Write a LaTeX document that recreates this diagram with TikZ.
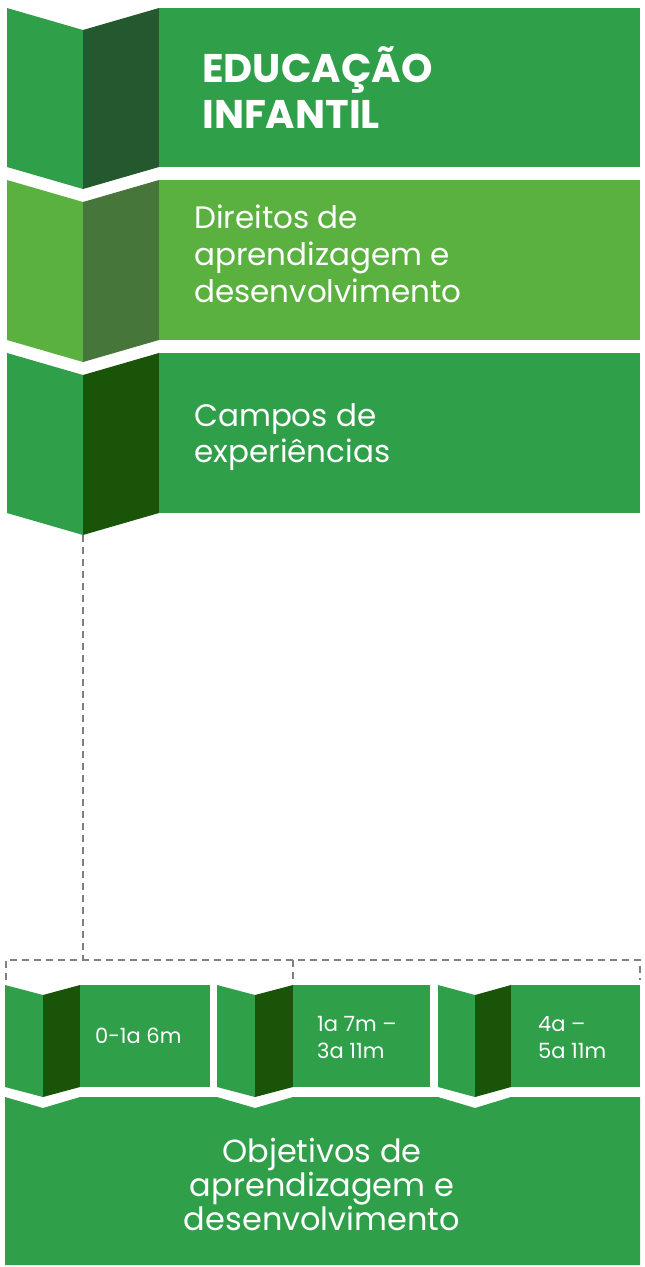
\documentclass[tikz,border=0pt]{standalone}
\usepackage{fontspec}
\setmainfont{Poppins}
\definecolor{gmain}{RGB}{47,159,73}
\definecolor{gdark}{RGB}{36,88,46}
\definecolor{glight}{RGB}{91,177,63}
\definecolor{glightdark}{RGB}{70,118,58}
\definecolor{gdeep}{RGB}{26,84,8}
\definecolor{dashgray}{RGB}{128,128,128}
\tikzset{
  rectbox/.style={anchor=north west, inner sep=0pt, outer sep=0pt},
  lbl/.style={text=white, inner sep=0pt, align=left, anchor=base west},
  dashline/.style={draw=dashgray, line width=2.4pt, dash pattern=on 7pt off 5pt},
}
\begin{document}
\begin{tikzpicture}[x=1pt,y=-1pt]
\useasboundingbox (0,0) rectangle (645,1267);
% banner 1
\fill[gmain] (7,8) -- (83,30) -- (83,189) -- (7,167) -- cycle;
\fill[gdark] (83,30) -- (159,8) -- (159,167) -- (83,189) -- cycle;
\node[rectbox, fill=gmain, minimum width=481pt, minimum height=159pt] (r1) at (159,8) {};
\node[lbl, font=\fontsize{40}{46}\selectfont\bfseries] (t1) at (202,128) {EDUCAÇÃO\\INFANTIL};
% banner 2
\fill[glight] (7,180) -- (83,202) -- (83,362) -- (7,340) -- cycle;
\fill[glightdark] (83,202) -- (159,180) -- (159,340) -- (83,362) -- cycle;
\node[rectbox, fill=glight, minimum width=481pt, minimum height=160pt] (r2) at (159,180) {};
\node[lbl, font=\fontsize{31}{37}\selectfont] (t2) at (194,302) {Direitos de\\aprendizagem e\\desenvolvimento};
% banner 3
\fill[gmain] (7,353) -- (83,375) -- (83,535) -- (7,513) -- cycle;
\fill[gdeep] (83,375) -- (159,353) -- (159,513) -- (83,535) -- cycle;
\coordinate (c3) at (83,535);
\node[rectbox, fill=gmain, minimum width=481pt, minimum height=160pt] (r3) at (159,353) {};
\node[lbl, font=\fontsize{31}{36}\selectfont] (t3) at (194,462) {Campos de\\experiências};
% dashed connector
\coordinate (hl) at (6,960);
\coordinate (hr) at (640,960);
\coordinate (hm) at (293,960);
\coordinate (la) at (6,980);
\coordinate (lb) at (293,980);
\coordinate (lc) at (640,980);
\draw[dashline] (c3) -- (c3 |- hl);
\draw[dashline] (la) -- (hl) -- (hr) -- (lc);
\draw[dashline] (hm) -- (lb);
% small banners
\fill[gmain] (5,985) -- (43,995) -- (43,1097) -- (5,1087) -- cycle;
\fill[gdeep] (43,995) -- (80,985) -- (80,1087) -- (43,1097) -- cycle;
\node[rectbox, fill=gmain, minimum width=130pt, minimum height=102pt] (sa) at (80,985) {};
\node[lbl, font=\fontsize{21}{27}\selectfont] (ta) at (95,1043) {0-1a 6m};
\fill[gmain] (217,985) -- (255,995) -- (255,1097) -- (217,1087) -- cycle;
\fill[gdeep] (255,995) -- (293,985) -- (293,1087) -- (255,1097) -- cycle;
\node[rectbox, fill=gmain, minimum width=137pt, minimum height=102pt] (sb) at (293,985) {};
\node[lbl, font=\fontsize{21}{27}\selectfont] (tb) at (317,1058) {1a 7m –\\3a 11m};
\fill[gmain] (438,985) -- (475,995) -- (475,1097) -- (438,1087) -- cycle;
\fill[gdeep] (475,995) -- (511,985) -- (511,1087) -- (475,1097) -- cycle;
\node[rectbox, fill=gmain, minimum width=129pt, minimum height=102pt] (sc) at (511,985) {};
\node[lbl, font=\fontsize{21}{27}\selectfont] (tc) at (538,1058) {4a –\\5a 11m};
% bottom box
\fill[gmain] (5,1097) -- (43,1108) -- (80,1097) -- (217,1097) -- (255,1108) -- (293,1097)
  -- (438,1097) -- (475,1108) -- (511,1097) -- (640,1097) -- (640,1265) -- (5,1265) -- cycle;
\coordinate (bc) at (322,1230);
\node[text=white, inner sep=0pt, align=center, anchor=base, font=\fontsize{32}{34}\selectfont] (tbot) at (bc) {Objetivos de\\aprendizagem e\\desenvolvimento};
\end{tikzpicture}
\end{document}
